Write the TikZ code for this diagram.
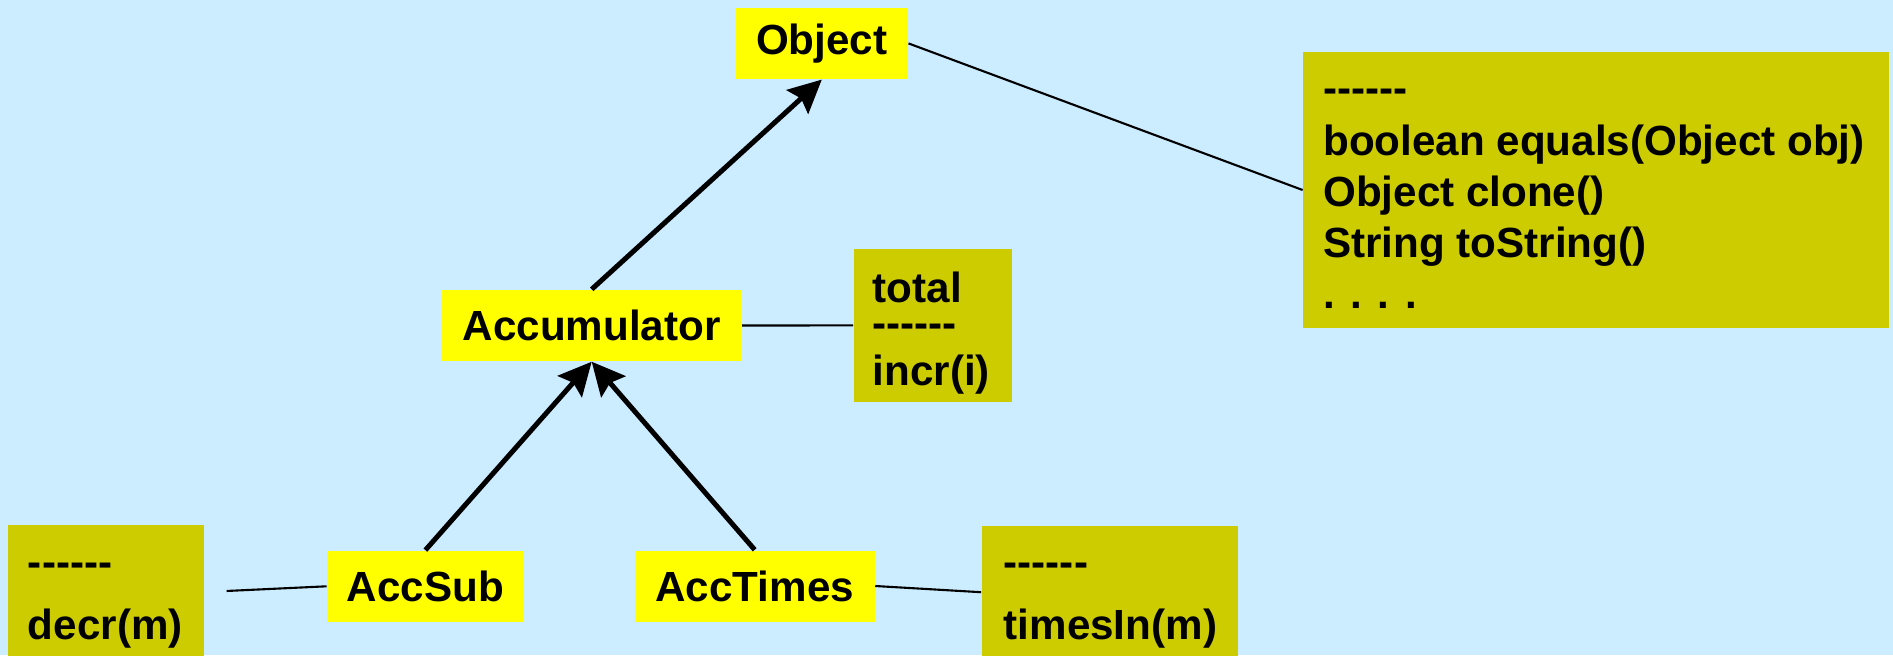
\documentclass[tikz,border=0pt]{standalone}
\usepackage{fontspec}
\setmainfont{Liberation Sans}[Ligatures=TeXOff]
\usepackage{tikz}
\usetikzlibrary{positioning,arrows.meta}
\definecolor{skyback}{RGB}{204,236,255}
\definecolor{classyellow}{RGB}{255,255,0}
\definecolor{memberolive}{RGB}{204,204,0}
\def\classnode{\node[fill=classyellow,minimum height=0.71cm,inner sep=0pt,font=\bfseries\fontsize{12}{14.5}\selectfont]}
\def\memberbox{\node[fill=memberolive,inner sep=0pt]}
\def\membertext{\node[align=left,inner sep=0pt,font=\bfseries\fontsize{12}{14.5}\selectfont]}
\def\drawinherit{\draw[line width=0.05cm,-{Stealth[length=0.33cm,width=0.32cm,inset=0.05cm]}]}
\def\drawlink{\draw[line width=0.6pt]}

\begin{document}
\begin{tikzpicture}[auto]
\useasboundingbox (0,0) rectangle (18.93,-6.55);
\fill[skyback] (0,0) rectangle (18.93,-6.55);

% classes
\classnode[minimum width=1.72cm] (object) at (8.218,-0.434) {Object};
\classnode[minimum width=2.995cm] (accum) at (5.917,-3.255) {Accumulator};
\classnode[minimum width=1.963cm] (accsub) at (4.254,-5.863) {AccSub};
\classnode[minimum width=2.397cm] (acctimes) at (7.547,-5.86) {AccTimes};

% member boxes
\memberbox[minimum width=5.86cm,minimum height=2.754cm] (objmembers) at (15.963,-1.9) {};
\memberbox[minimum width=1.582cm,minimum height=1.527cm] (accmembers) at (9.328,-3.254) {};
\memberbox[minimum width=1.96cm,minimum height=1.34cm] (submembers) at (1.06,-5.92) {};
\memberbox[minimum width=2.558cm,minimum height=1.33cm] (timesmembers) at (11.097,-5.922) {};

\membertext[below right=0.145cm and 0.20cm of objmembers.north west] (objtext)
  {\strut------\\[0.7pt]boolean equals(Object obj)\\Object clone()\\String toString()\\. . . .};
\membertext[below right=0.175cm and 0.19cm of accmembers.north west] (acctext)
  {\strut total\\[-4.4pt]------\\[-1pt]incr(i)};
\membertext[below right=0.155cm and 0.20cm of submembers.north west] (subtext)
  {\strut------\\[3.4pt]decr(m)};
\membertext[below right=0.155cm and 0.22cm of timesmembers.north west] (timestext)
  {\strut------\\[3.4pt]timesIn(m)};

% inheritance
\drawinherit (accum.north) -- (object.south);
\drawinherit (accsub.north) -- (accum.south);
\drawinherit (acctimes.north) -- (accum.south);

% members
\drawlink (object.east) -- (objmembers.west);
\drawlink (accum.east) -- (accmembers.west);
\drawlink[shorten <=0.22cm] (submembers.east) -- (accsub.west);
\drawlink (acctimes.east) -- (timesmembers.west);
\end{tikzpicture}
\end{document}
